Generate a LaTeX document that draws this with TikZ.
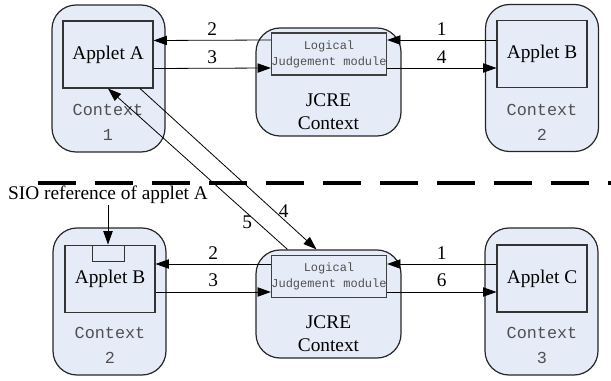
\documentclass[tikz,border=0pt]{standalone}
\usepackage{fontspec}
\setmainfont{Liberation Serif}
\newfontfamily\ctxfont{Liberation Mono}
\usetikzlibrary{arrows.meta,calc}
\definecolor{ctxfill}{RGB}{229,236,248}
\definecolor{ctxgray}{RGB}{80,80,80}
\tikzset{
  ctxbox/.style={draw=black!85,fill=ctxfill,line width=0.9pt,rounded corners=18pt,minimum width=84.75pt,minimum height=110.25pt},
  jcrebox/.style={ctxbox,minimum width=108.75pt,minimum height=81pt},
  applet/.style={draw=black!80,fill=ctxfill,line width=0.8pt,minimum width=67.5pt,minimum height=50.25pt},
  logic/.style={draw=black!75,fill=ctxfill,line width=0.8pt,inner sep=0pt,minimum width=85.5pt,minimum height=31.5pt,align=center,text=ctxgray,font=\ctxfont\fontsize{9}{12}\selectfont},
  sioref/.style={draw=black!80,fill=ctxfill,line width=0.7pt,minimum width=24pt,minimum height=12pt,inner sep=0pt},
  ctxlabel/.style={align=center,text=ctxgray,font=\ctxfont\fontsize{12.6}{18.75}\selectfont},
  jcrelabel/.style={align=center,font=\fontsize{14.5}{17.25}\selectfont},
  arr/.style={-{Triangle[length=10pt,width=7pt]},line width=0.6pt}
}
\begin{document}
\begin{tikzpicture}[x=0.75pt,y=-0.75pt,font=\fontsize{14.5}{17}\selectfont]
\useasboundingbox (0,0) rectangle (611,381);
\node[ctxbox] (ctxA) at (108.5,78.5) {};
\node[applet] (appA) at (108,54.5) {Applet A};
\node[ctxlabel] (labA) at (108,122.5) {Context\\1};
\node[jcrebox] (jcreT) at (328.5,82) {};
\node[logic] (logT) at (329,54) {Logical\\Judgement module};
\node[jcrelabel] (labT) at (328.5,111.5) {JCRE\\Context};
\node[ctxbox] (ctxB) at (542,78) {};
\node[applet] (appB) at (542,54) {Applet B};
\node[ctxlabel] (labB) at (542,122) {Context\\2};
\draw[arr] ($(logT.west)+(0,-14)$) -- node[above]{2} ($(appA.east)+(0,-14)$);
\draw[arr] ($(appA.east)+(0,14)$) -- node[above]{3} ($(logT.west)+(0,14)$);
\draw[arr] ($(appB.west)+(0,-14)$) -- node[above]{1} ($(logT.east)+(0,-14)$);
\draw[arr] ($(logT.east)+(0,14)$) -- node[above]{4} ($(appB.west)+(0,14)$);
\node[ctxbox] (ctxB2) at (109.5,301.5) {};
\node[applet] (appB2) at (110,279) {Applet B};
\node[sioref] (sioB) at (108,253) {};
\node[ctxlabel] (labB2) at (110,345.5) {Context\\2};
\node[jcrebox] (jcreB) at (328.5,304) {};
\node[logic] (logB) at (329,276.5) {Logical\\Judgement module};
\node[jcrelabel] (labJB) at (328.5,333.5) {JCRE\\Context};
\node[ctxbox] (ctxC) at (541.5,301.5) {};
\node[applet] (appC) at (542,278.5) {Applet C};
\node[ctxlabel] (labC) at (542,345) {Context\\3};
\node[inner sep=1pt] (sioLab) at (108,195) {SIO reference of applet A};
\draw[arr] (sioLab) -- (sioB);
\draw[arr] ($(logB.west)+(0,-12.5)$) -- node[above]{2} ($(appB2.east)+(0,-15)$);
\draw[arr] ($(appB2.east)+(0,13)$) -- node[above]{3} ($(logB.west)+(0,15.5)$);
\draw[arr] ($(appC.west)+(0,-14.5)$) -- node[above]{1} ($(logB.east)+(0,-12.5)$);
\draw[arr] ($(logB.east)+(0,15.5)$) -- node[above]{6} ($(appC.west)+(0,13.5)$);
\draw[arr] ($(appA.south)+(32,0)$) -- node[pos=0.76,right]{4} ($(jcreB.north)+(-12,0)$);
\draw[arr] ($(jcreB.north)+(-41,0)$) -- node[pos=0.17,left]{5} (appA.south);
\draw[line width=2.4pt,dash pattern=on 28.5pt off 14.25pt] (38,183) -- (611,183);
\end{tikzpicture}
\end{document}
